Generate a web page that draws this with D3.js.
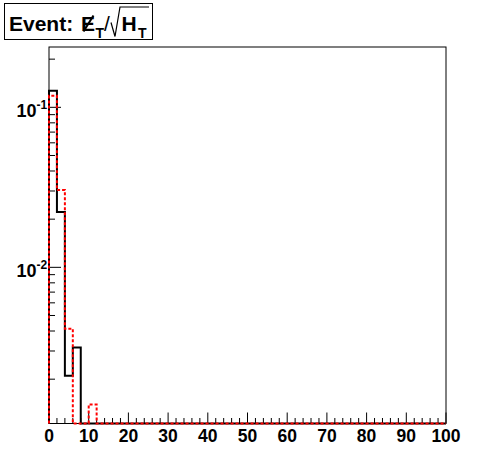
<!DOCTYPE html>
<html><head><meta charset="utf-8">
<script src="https://cdn.jsdelivr.net/npm/d3@7"></script>
<style>html,body{margin:0;padding:0;background:#fff;} svg{display:block;}</style>
</head><body>
<script>
// Data: 50 bins of width 2 over [0,100]
const binEdges = d3.range(0, 101, 2);
const blackValues = [0.127, 0.0222, 0.0021, 0.00316].concat(new Array(46).fill(0));
const redValues = [0.118, 0.0304, 0.00413, 0, 0, 0.00139].concat(new Array(44).fill(0));
const xTickLabels = ["0","10","20","30","40","50","60","70","80","90","100"];
const yTickExponents = ["-1","-2"];

const W = 496, H = 472;
const L = 49, R = 446, T = 47, B = 423.5;
const svg = d3.select("body").append("svg").attr("width", W).attr("height", H);
svg.append("rect").attr("width", W).attr("height", H).attr("fill", "#fff");

const x = d3.scaleLinear().domain([0, 100]).range([L, R]);
const y = d3.scaleLog().domain([Math.pow(10, -2.976), Math.pow(10, -0.623)]).range([B, T]);
const yv = v => v > 0 ? Math.max(T, Math.min(B, y(v))) : B;

const font = "Liberation Sans, Arial, Helvetica, sans-serif";

// frame
svg.append("rect").attr("x", L).attr("y", T).attr("width", R - L).attr("height", B - T)
  .attr("fill", "none").attr("stroke", "#000").attr("stroke-width", 1);

// x ticks
const xt = svg.append("g");
d3.range(0, 101, 2).forEach(v => {
  const major = v % 10 === 0;
  xt.append("line").attr("x1", x(v)).attr("x2", x(v)).attr("y1", B).attr("y2", B - (major ? 11 : 5.5))
    .attr("stroke", "#000").attr("stroke-width", 1);
});
xTickLabels.forEach(s => {
  xt.append("text").attr("x", x(+s)).attr("y", 442).attr("text-anchor", "middle")
    .attr("font-family", font).attr("font-weight", "bold").attr("font-size", 17.5).text(s);
});

// y ticks
const yt = svg.append("g");
const yDom = y.domain();
for (let e = -3; e <= 0; e++) {
  for (let m = 1; m <= 9; m++) {
    const v = m * Math.pow(10, e);
    if (v < yDom[0] || v > yDom[1]) continue;
    const major = m === 1;
    yt.append("line").attr("x1", L).attr("x2", L + (major ? 12 : 6)).attr("y1", y(v)).attr("y2", y(v))
      .attr("stroke", "#000").attr("stroke-width", 1);
  }
}
yTickExponents.forEach(ex => {
  const v = Math.pow(10, +ex);
  yt.append("text").attr("x", 36.5).attr("y", y(v) + 10).attr("text-anchor", "end")
    .attr("font-family", font).attr("font-weight", "bold").attr("font-size", 18).text("10");
  yt.append("text").attr("x", 36.5).attr("y", y(v) + 1.5)
    .attr("font-family", font).attr("font-weight", "bold").attr("font-size", 12).text(ex);
});

// histograms
function stepPath(vals) {
  let d = `M${x(0)},${B}`;
  vals.forEach((v, i) => {
    d += `L${x(binEdges[i])},${yv(v)}L${x(binEdges[i + 1])},${yv(v)}`;
  });
  d += `L${x(100)},${B}`;
  return d;
}
svg.append("path").attr("d", stepPath(blackValues)).attr("fill", "none")
  .attr("stroke", "#000").attr("stroke-width", 2);
svg.append("path").attr("d", stepPath(redValues)).attr("fill", "none")
  .attr("stroke", "#ff0000").attr("stroke-width", 2).attr("stroke-dasharray", "3,2");

// title box
const tg = svg.append("g");
tg.append("rect").attr("x", 4.5).attr("y", 3.5).attr("width", 148).attr("height", 36)
  .attr("fill", "#fff").attr("stroke", "#000").attr("stroke-width", 1);
const fs = 21, base = 30.5;
function txt(s, xx, yy, size, w) {
  return tg.append("text").attr("x", xx).attr("y", yy).attr("font-family", font)
    .attr("font-weight", w || "bold").attr("font-size", size).text(s);
}
txt("Event:", 9, base, fs);
txt("E", 81, base, fs);
tg.append("line").attr("x1", 83.5).attr("y1", base + 1).attr("x2", 93.5).attr("y2", base - 15)
  .attr("stroke", "#000").attr("stroke-width", 2);
txt("T", 95.5, base + 7, 14);
txt("/", 104, base, fs, "normal");
// sqrt sign
tg.append("path").attr("d", `M111,${base - 8}L115,${base + 6}L120,${base - 23.5}L149,${base - 23.5}`)
  .attr("fill", "none").attr("stroke", "#000").attr("stroke-width", 1.2);
txt("H", 121.5, base, fs);
txt("T", 138, base + 7, 14);
</script>
</body></html>
